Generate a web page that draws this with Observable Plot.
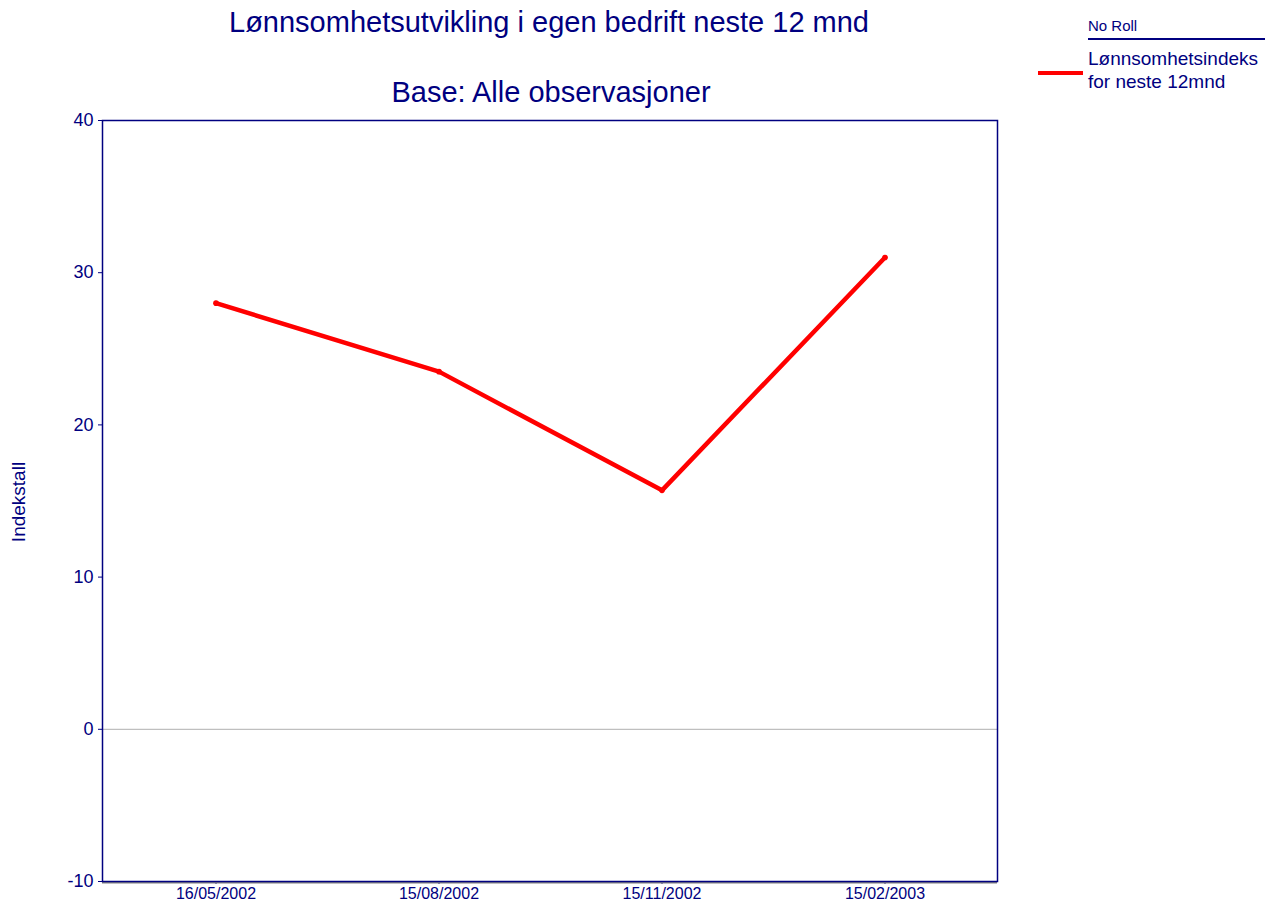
<!DOCTYPE html>
<html>
<head>
<meta charset="utf-8">
<script src="https://cdn.jsdelivr.net/npm/d3@7"></script>
<script src="https://cdn.jsdelivr.net/npm/@observablehq/plot@0.6"></script>
<style>
  html, body { margin: 0; padding: 0; background: #fff; }
  body { width: 1265px; height: 904px; position: relative; overflow: hidden; font-family: "Liberation Sans", Arial, sans-serif; color: #000080; }
  .abs { position: absolute; line-height: 1; white-space: nowrap; }
  #chart { position: absolute; left: 0; top: 0; }
</style>
</head>
<body>
<div id="chart"></div>
<div class="abs" id="title" style="left:549px; top:22px; font-size:29px; transform:translate(-50%,-50%);">Lønnsomhetsutvikling i egen bedrift neste 12 mnd</div>
<div class="abs" id="subtitle" style="left:551px; top:92px; font-size:29px; transform:translate(-50%,-50%);">Base: Alle observasjoner</div>
<div class="abs" id="ylabel" style="left:18px; top:502px; font-size:19px; transform:translate(-50%,-50%) rotate(-90deg);">Indekstall</div>
<div class="abs" style="left:1088px; top:25px; font-size:15px; transform:translateY(-50%);">No Roll</div>
<div class="abs" style="left:1088px; top:38px; width:177px; height:0; border-top:2px solid #000080;"></div>
<div class="abs" style="left:1038px; top:71px; width:45px; height:0; border-top:4px solid #ff0000;"></div>
<div class="abs" style="left:1088px; top:47px; font-size:19px; line-height:23px;">Lønnsomhetsindeks<br>for neste 12mnd</div>
<script>
const dates = ["16/05/2002", "15/08/2002", "15/11/2002", "15/02/2003"];
const values = [28.0, 23.5, 15.7, 31.0];
const yTicks = [-10, 0, 10, 20, 30, 40];
const seriesName = "Lønnsomhetsindeks for neste 12mnd";

const data = dates.map((d, i) => ({date: d, value: values[i], series: seriesName}));

const navy = "#000080";
const chart = Plot.plot({
  width: 1265,
  height: 904,
  marginLeft: 102,
  marginRight: 268,
  marginTop: 120,
  marginBottom: 23,
  style: {fontFamily: "'Liberation Sans', Arial, sans-serif", color: navy, background: "white", overflow: "visible"},
  x: {type: "band", domain: dates, padding: 0},
  y: {domain: [-10, 40]},
  marks: [
    Plot.ruleY([0], {stroke: "#b0b0b0", strokeWidth: 1}),
    Plot.axisY({ticks: yTicks, tickFormat: d => String(d), tickSize: 4, tickPadding: 5, fontSize: 18, stroke: navy, fill: navy, label: null}),
    Plot.axisX({tickSize: 3, tickPadding: 3, fontSize: 16, stroke: navy, fill: navy, label: null}),
    Plot.ruleY([-10], {stroke: "#808080", strokeWidth: 2, dy: 1}),
    Plot.frame({stroke: navy, strokeWidth: 1.5}),
    Plot.line(data, {x: "date", y: "value", stroke: "#ff0000", strokeWidth: 4.5, strokeLinejoin: "miter"}),
    Plot.dot(data, {x: "date", y: "value", r: 2.8, fill: "#ff0000"})
  ]
});
document.getElementById("chart").appendChild(chart);
</script>
</body>
</html>
